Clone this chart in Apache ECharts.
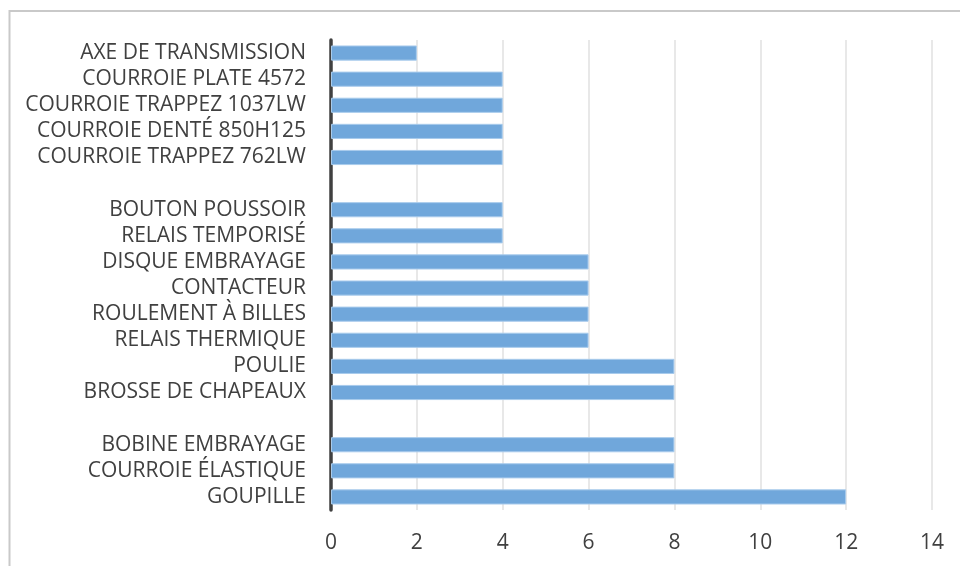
<!DOCTYPE html>
<html>
<head>
<meta charset="utf-8">
<script src="https://cdn.jsdelivr.net/npm/echarts@6/dist/echarts.min.js"></script>
<style>
  html, body { margin: 0; padding: 0; background: #ffffff; }
  #chart { width: 960px; height: 566px; }
</style>
</head>
<body>
<div id="chart"></div>
<script>
// Parts, listed top to bottom; empty strings are spacer rows between groups
const categories = [
  'AXE DE TRANSMISSION',
  'COURROIE PLATE 4572',
  'COURROIE TRAPPEZ 1037LW',
  'COURROIE DENTÉ 850H125',
  'COURROIE TRAPPEZ 762LW',
  '',
  'BOUTON POUSSOIR',
  'RELAIS TEMPORISÉ',
  'DISQUE EMBRAYAGE',
  'CONTACTEUR',
  'ROULEMENT À BILLES',
  'RELAIS THERMIQUE',
  'POULIE',
  'BROSSE DE CHAPEAUX',
  ' ',
  'BOBINE EMBRAYAGE',
  'COURROIE ÉLASTIQUE',
  'GOUPILLE'
];
const quantities = [2, 4, 4, 4, 4, null, 4, 4, 6, 6, 6, 6, 8, 8, null, 8, 8, 12];
const xTicks = [0, 2, 4, 6, 8, 10, 12, 14];

const chart = echarts.init(document.getElementById('chart'), null, { renderer: 'canvas' });
const font = '"Open Sans", "Noto Sans", sans-serif';

chart.setOption({
  animation: false,
  backgroundColor: '#ffffff',
  graphic: [{
    type: 'rect',
    shape: { x: 9.5, y: 11, width: 1000, height: 600 },
    style: { fill: 'none', stroke: '#c9c9c9', lineWidth: 2 },
    z: -1
  }],
  grid: { left: 331, right: 28, top: 40, bottom: 56, containLabel: false },
  xAxis: {
    type: 'value',
    min: xTicks[0],
    max: xTicks[xTicks.length - 1],
    interval: 2,
    axisLine: { show: false },
    axisTick: { show: false },
    splitLine: { show: true, lineStyle: { color: '#e0e0e0', width: 1.5 } },
    axisLabel: { color: '#404040', fontFamily: font, fontSize: 21, margin: 23 }
  },
  yAxis: {
    type: 'category',
    inverse: true,
    data: categories,
    axisLine: { show: true, lineStyle: { color: '#404040', width: 3.5 } },
    axisTick: { show: false },
    axisLabel: {
      interval: 0,
      hideOverlap: false,
      color: '#404040',
      fontFamily: font,
      fontSize: 21,
      margin: 25,
      padding: [4, 0, 0, 0]
    }
  },
  series: [{
    type: 'bar',
    data: quantities,
    barCategoryGap: '42%',
    itemStyle: { color: '#70a7db', borderColor: '#a8cbec', borderWidth: 1 }
  }]
});
</script>
</body>
</html>
